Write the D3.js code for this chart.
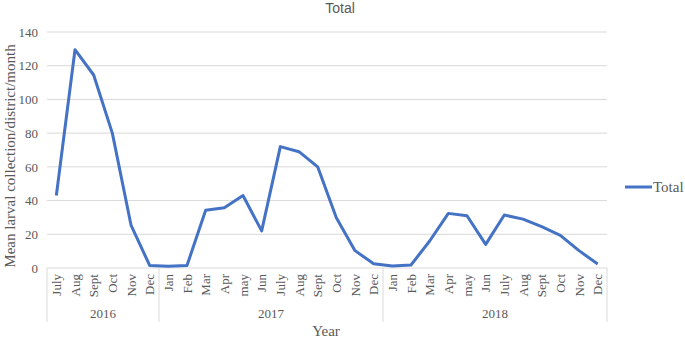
<!DOCTYPE html>
<html>
<head>
<meta charset="utf-8">
<script src="https://cdn.jsdelivr.net/npm/d3@7"></script>
<style>
  body { margin: 0; background: #fff; }
  text { font-family: "Liberation Serif", "Times New Roman", serif; fill: #595959; }
</style>
</head>
<body>
<svg id="chart" width="685" height="338"></svg>
<script>
// months shown under each year
var years = ["2016", "2017", "2018"];
var months2016 = ["July", "Aug", "Sept", "Oct", "Nov", "Dec"];
var months2017 = ["Jan", "Feb", "Mar", "Apr", "may", "Jun", "July", "Aug", "Sept", "Oct", "Nov", "Dec"];
var months2018 = ["Jan", "Feb", "Mar", "Apr", "may", "Jun", "July", "Aug", "Sept", "Oct", "Nov", "Dec"];

var total2016 = [43, 129.5, 114.5, 80, 25.5, 1.5];
var total2017 = [1, 1.5, 34.3, 35.8, 43, 22, 72, 69, 60, 29.8, 10.3, 2.5];
var total2018 = [1.2, 1.8, 16, 32.4, 31, 14, 31.4, 29, 24.5, 19.4, 10.3, 2.4];

var yTicks = [0, 20, 40, 60, 80, 100, 120, 140];

var groups = [months2016, months2017, months2018];
var totals = [total2016, total2017, total2018];

// flatten into one row per month
var rows = [];
groups.forEach(function(ms, gi) {
  ms.forEach(function(m, i) {
    rows.push({ key: years[gi] + "-" + i, month: m, year: years[gi], value: totals[gi][i] });
  });
});

var svg = d3.select("#chart");
// note: "top" is taken by window.top, so plot edges get other names
var plotL = 47, plotR = 607, plotT = 32, plotB = 268;

var x = d3.scaleBand().domain(rows.map(function(d) { return d.key; })).range([plotL, plotR]);
var y = d3.scaleLinear().domain([0, 140]).range([plotB, plotT]);

// gridlines
svg.append("g").selectAll("line")
  .data(yTicks.filter(function(t) { return t > 0; }))
  .enter().append("line")
  .attr("x1", plotL).attr("x2", plotR)
  .attr("y1", function(d) { return y(d); }).attr("y2", function(d) { return y(d); })
  .attr("stroke", "#d9d9d9").attr("stroke-width", 1);

// y axis labels
var yAxis = svg.append("g")
  .attr("transform", "translate(" + plotL + ",0)")
  .call(d3.axisLeft(y).tickValues(yTicks).tickSize(0).tickPadding(9));
yAxis.select(".domain").remove();
yAxis.selectAll("text").style("font-size", "13px").style("fill", "#595959")
  .style("font-family", "Liberation Serif");

// x axis baseline
svg.append("line")
  .attr("x1", plotL).attr("x2", plotR).attr("y1", plotB).attr("y2", plotB)
  .attr("stroke", "#d9d9d9").attr("stroke-width", 1);

// month labels
svg.append("g").selectAll("text")
  .data(rows)
  .enter().append("text")
  .attr("transform", function(d) {
    return "translate(" + (x(d.key) + x.bandwidth() / 2 + 4.5) + "," + (plotB + 6) + ") rotate(-90)";
  })
  .attr("text-anchor", "end")
  .style("font-size", "13px")
  .text(function(d) { return d.month; });

// group separators and year labels
var bounds = [];
var idx = 0;
groups.forEach(function(ms, gi) {
  bounds.push({ year: years[gi], start: idx, end: idx + ms.length });
  idx += ms.length;
});
var edges = [plotL].concat(bounds.map(function(b) {
  return x(rows[b.end - 1].key) + x.bandwidth();
}));
svg.append("g").selectAll("line")
  .data(edges)
  .enter().append("line")
  .attr("x1", function(d) { return d; }).attr("x2", function(d) { return d; })
  .attr("y1", plotB).attr("y2", 322)
  .attr("stroke", "#d9d9d9").attr("stroke-width", 1);

svg.append("g").selectAll("text")
  .data(bounds)
  .enter().append("text")
  .attr("x", function(b) {
    return (x(rows[b.start].key) + x(rows[b.end - 1].key) + x.bandwidth()) / 2;
  })
  .attr("y", 318)
  .attr("text-anchor", "middle")
  .style("font-size", "13px")
  .text(function(b) { return b.year; });

// the line
var line = d3.line()
  .x(function(d) { return x(d.key) + x.bandwidth() / 2; })
  .y(function(d) { return y(d.value); });

svg.append("path")
  .datum(rows)
  .attr("d", line)
  .attr("fill", "none")
  .attr("stroke", "#4472c4")
  .attr("stroke-width", 3)
  .attr("stroke-linejoin", "round");

// titles
svg.append("text")
  .attr("x", 340).attr("y", 13)
  .attr("text-anchor", "middle")
  .style("font-family", "Liberation Sans, Arial, sans-serif")
  .style("font-size", "14px")
  .text("Total");

svg.append("text")
  .attr("x", 326).attr("y", 336)
  .attr("text-anchor", "middle")
  .style("font-size", "15px")
  .text("Year");

svg.append("text")
  .attr("transform", "translate(15," + ((plotT + plotB) / 2 + 6) + ") rotate(-90)")
  .attr("text-anchor", "middle")
  .style("font-size", "15px")
  .text("Mean larval collection/district/month");

// legend
svg.append("line")
  .attr("x1", 625).attr("x2", 652).attr("y1", 187).attr("y2", 187)
  .attr("stroke", "#4472c4").attr("stroke-width", 3);
svg.append("text")
  .attr("x", 653).attr("y", 192)
  .style("font-size", "15px")
  .text("Total");
</script>
</body>
</html>
